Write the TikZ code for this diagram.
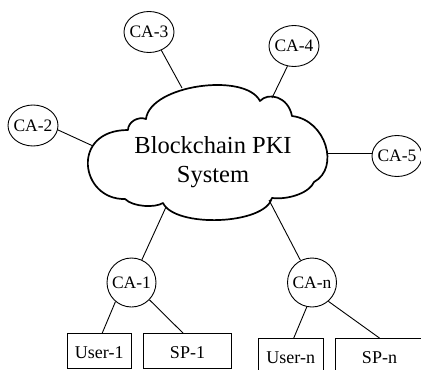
\documentclass[tikz,border=0pt]{standalone}
\usepackage{fontspec}
\setmainfont{Liberation Serif}
\usetikzlibrary{shapes.geometric}

\begin{document}
\begin{tikzpicture}[x=1pt,y=-1pt,
  ca/.style={draw, ellipse, line width=0.9pt, inner sep=0pt,
             minimum width=50pt, minimum height=41pt},
  calow/.style={ca, minimum width=49pt, minimum height=49pt},
  calabel/.style={font=\fontsize{17.5}{20}\selectfont},
  box/.style={draw, rectangle, line width=0.9pt, inner sep=0pt,
              minimum height=34.5pt, text height=15pt, text depth=0pt,
              font=\fontsize{18}{20}\selectfont},
  link/.style={line width=0.9pt},
  cloudline/.style={line width=1.7pt, line join=round},
  title/.style={font=\fontsize{24.5}{29.4}\selectfont, anchor=base, inner sep=0pt}]
\useasboundingbox (0,0) rectangle (421,370);
\clip (0,0) rectangle (421,370);

% certificate authorities around the ledger
\node[ca, label={[calabel]center:CA-2}] (ca2) at (33,125.5) {};
\node[ca, label={[calabel]center:CA-3}] (ca3) at (149,32) {};
\node[ca, label={[calabel]center:CA-4}] (ca4) at (294,46) {};
\node[ca, label={[calabel]center:CA-5}] (ca5) at (397,156) {};
\node[calow, label={[calabel]center:CA-1}] (ca1) at (131.5,282.5) {};
\node[calow, label={[calabel]center:CA-n}] (can) at (312,282.5) {};

% users and service providers
\node[box, minimum width=64.5pt] (u1) at (99.25,350.75) {User-1};
\node[box, minimum width=88pt] (sp1) at (187.5,350.75) {SP-1};
\node[box, minimum width=64.5pt] (un) at (290.75,355.75) {User-n};
\node[box, minimum width=88pt] (spn) at (379.5,355.75) {SP-n};

% the cloud outline, puff by puff
\draw[cloudline]
  (128,130) .. controls (128,122) and (138,116) .. (146,119)
            .. controls (150,85) and (245,72) .. (260,101)
            .. controls (268,92) and (288,96) .. (292,116)
            .. controls (326,120) and (340,168) .. (314,182)
            .. controls (310,192) and (290,200) .. (272,198)
            .. controls (265,225) and (175,228) .. (163,203)
            .. controls (155,208) and (133,207) .. (125,199)
            .. controls (80,200) and (70,130) .. (128,130) -- cycle;

\node[title] (title1) at (213,153.3) {Blockchain PKI};
\node[title] (title2) at (213,182.7) {System};

% attachment points on the cloud
\coordinate (k1) at (166,207);
\coordinate (k2) at (93,146);
\coordinate (k3) at (182,88);
\coordinate (k4) at (272,98);
\coordinate (k5) at (327,153.5);
\coordinate (kn) at (269,200);

\draw[link] (ca2.350) -- (k2);
\draw[link] (ca3.304) -- (k3);
\draw[link] (ca4.252) -- (k4);
\draw[link] (k5) -- (k5 -| ca5.west);
\draw[link] (k1) -- (ca1);
\draw[link] (kn) -- (can);

\draw[link] (ca1.230) -- ([xshift=3pt]u1.north);
\draw[link] (ca1.316) -- ([xshift=-4.5pt]sp1.north);
\draw[link] (can.258) -- ([xshift=3pt]un.north);
\draw[link] (can.311) -- (spn.north);
\end{tikzpicture}
\end{document}
